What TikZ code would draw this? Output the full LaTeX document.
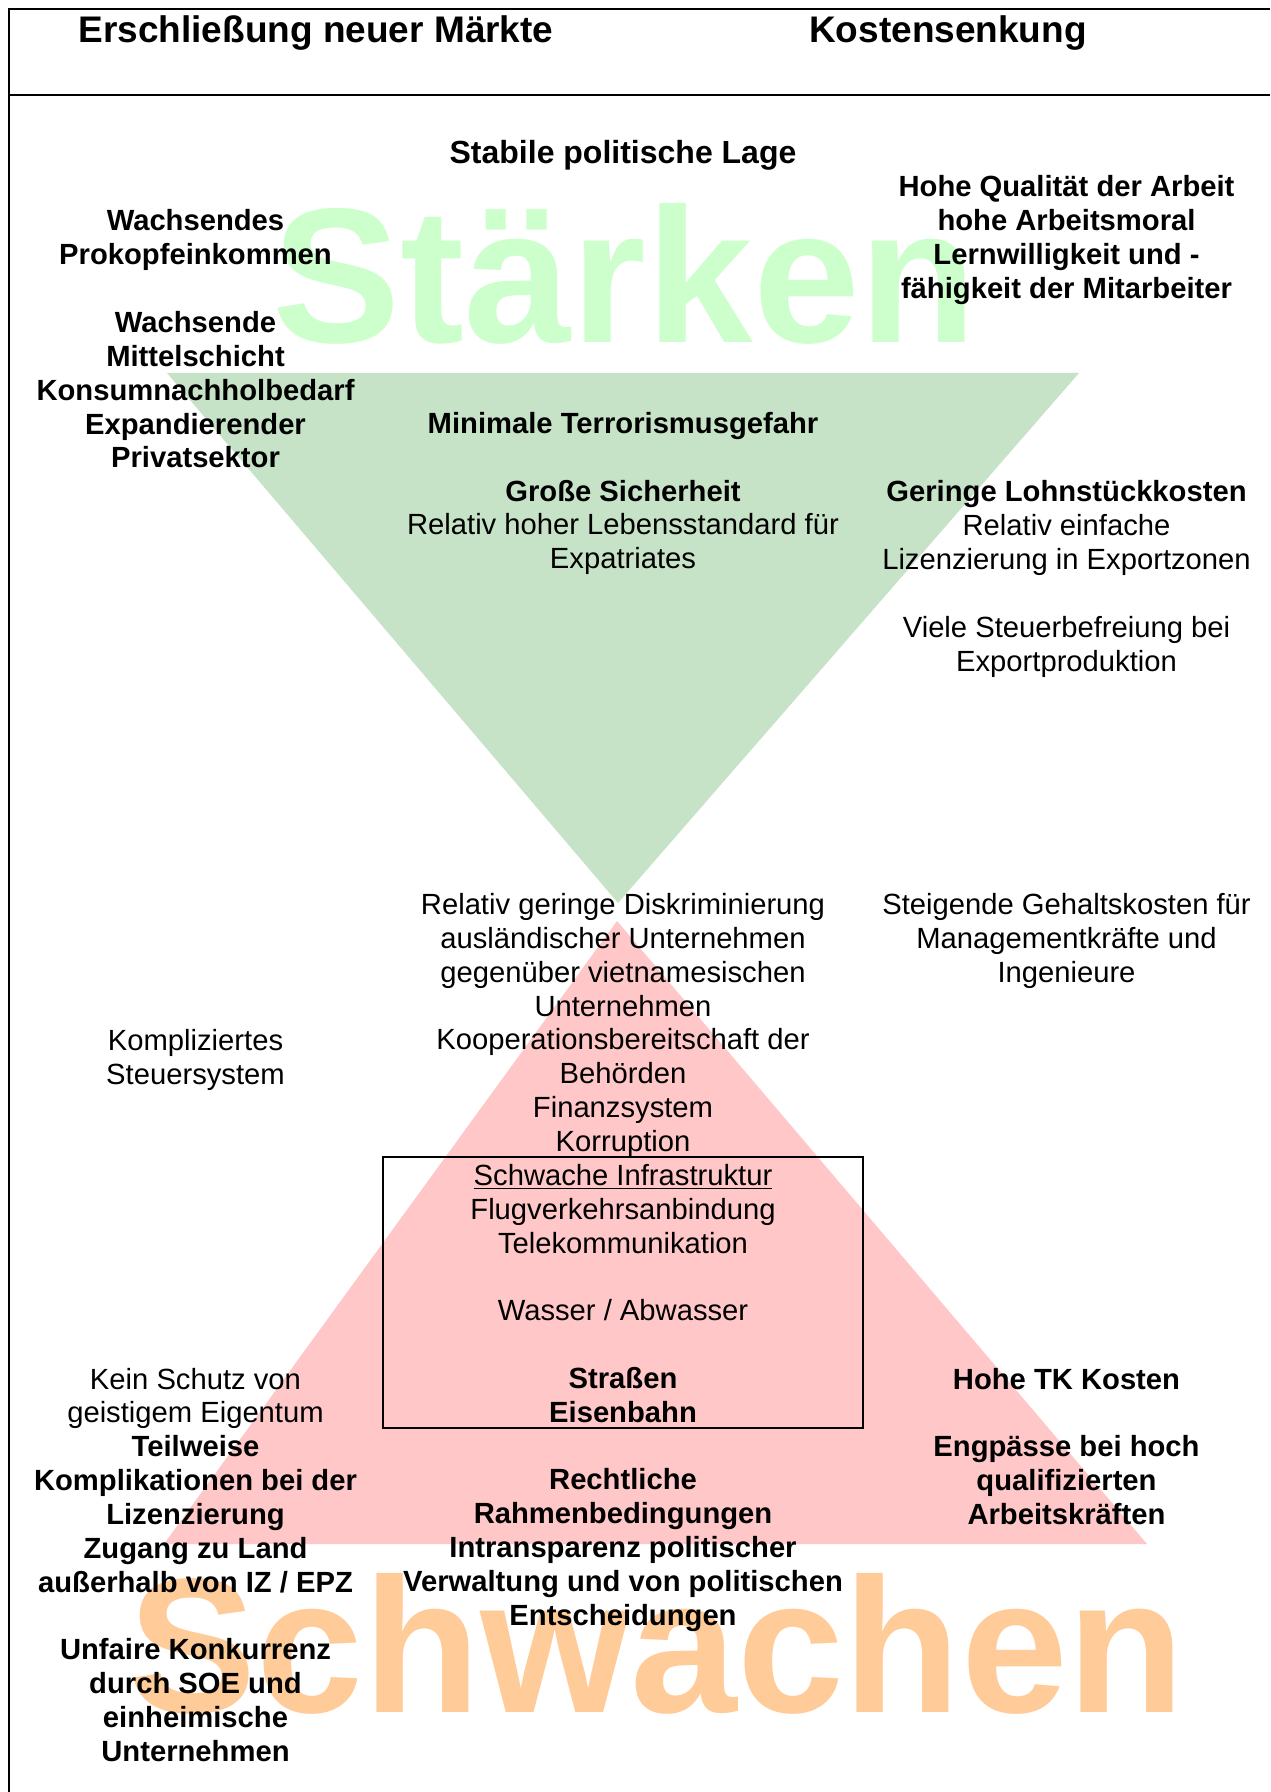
\documentclass[tikz,border=0pt]{standalone}
\usepackage{fontspec}
\setmainfont{Liberation Sans}
\definecolor{trigreen}{RGB}{199,227,199}
\definecolor{tripink}{RGB}{255,199,199}
\definecolor{wordgreen}{RGB}{204,255,204}
\definecolor{wordorange}{RGB}{255,204,153}
\begin{document}
\begin{tikzpicture}[x=0.5pt,y=-0.5pt,
  txtblock/.style={align=center, inner sep=0pt, anchor=north,
    font=\fontsize{14.6}{16.92}\selectfont},
  boldblock/.style={txtblock, font=\fontsize{14.6}{16.92}\selectfont\bfseries},
  headtxt/.style={anchor=base, inner sep=0pt,
    font=\fontsize{18.5}{21}\selectfont\bfseries},
  bigword/.style={anchor=base, inner sep=0pt,
    font=\fontsize{96}{100}\selectfont\bfseries},
  frameline/.style={line width=0.75pt, black}]

% page and frame
\useasboundingbox (0,0) rectangle (1270,1792);
\fill[white] (0,0) rectangle (1270,1792);
\draw[frameline] (9,1792) -- (9,9) -- (1270,9);
\draw[frameline] (9,95) -- (1270,95);

% headings
\node[headtxt] (hmarkt) at (316,43) {Erschließung neuer Märkte};
\node[headtxt] (hkost) at (948,43) {Kostensenkung};

% large background words
\node[bigword, text=wordgreen] (wstark) at (625,343) {Stärken};
\node[bigword, text=wordorange] (wschwach) at (657,1712) {Schwachen};

% triangles
\fill[trigreen] (167,373) -- (1079,373) -- (618,903) -- cycle;
\fill[tripink] (617,921) -- (1147,1544) -- (164,1544) -- cycle;

% infrastructure box
\draw[frameline] (383,1157) rectangle (863,1428);

% strengths
\node[anchor=base, inner sep=0pt, font=\fontsize{16}{18.5}\selectfont\bfseries]
  (slage) at (623,163.5) {Stabile politische Lage};
\node[boldblock] (smarkt) at (195.5,206.9)
  {\strut Wachsendes\\Prokopfeinkommen\\[\baselineskip]Wachsende\\Mittelschicht\\Konsumnachholbedarf\\Expandierender\\Privatsektor};
\node[boldblock] (sarbeit) at (1066.5,172.6)
  {\strut Hohe Qualität der Arbeit\\hohe Arbeitsmoral\\Lernwilligkeit und -\\fähigkeit der Mitarbeiter};
\node[txtblock] (ssicher) at (623,409.3)
  {\strut\textbf{Minimale Terrorismusgefahr}\\[\baselineskip]\textbf{Große Sicherheit}\\Relativ hoher Lebensstandard für\\Expatriates};
\node[txtblock] (slohn) at (1066.5,477.8)
  {\strut\textbf{Geringe Lohnstückkosten}\\Relativ einfache\\Lizenzierung in Exportzonen\\[\baselineskip]Viele Steuerbefreiung bei\\Exportproduktion};

% weaknesses
\node[txtblock] (wmitte) at (623,890.5)
  {\strut Relativ geringe Diskriminierung\\ausländischer Unternehmen\\gegenüber vietnamesischen\\Unternehmen\\Kooperationsbereitschaft der\\Behörden\\Finanzsystem\\Korruption\\\underline{Schwache Infrastruktur}\\Flugverkehrsanbindung\\Telekommunikation\\[\baselineskip]Wasser / Abwasser\\[\baselineskip]\textbf{Straßen}\\\textbf{Eisenbahn}\\[\baselineskip]\textbf{Rechtliche}\\\textbf{Rahmenbedingungen}\\\textbf{Intransparenz politischer}\\\textbf{Verwaltung und von politischen}\\\textbf{Entscheidungen}};
\node[txtblock] (wgehalt) at (1066.5,890.5)
  {\strut Steigende Gehaltskosten für\\Managementkräfte und\\Ingenieure};
\node[txtblock] (wsteuer) at (195.5,1026.5)
  {\strut Kompliziertes\\Steuersystem};
\node[txtblock] (wschutz) at (195.5,1364.9)
  {\strut Kein Schutz von\\geistigem Eigentum\\\textbf{Teilweise}\\\textbf{Komplikationen bei der}\\\textbf{Lizenzierung}\\\textbf{Zugang zu Land}\\\textbf{außerhalb von IZ / EPZ}\\[\baselineskip]\textbf{Unfaire Konkurrenz}\\\textbf{durch SOE und}\\\textbf{einheimische}\\\textbf{Unternehmen}};
\node[boldblock] (wtk) at (1066.5,1364.9)
  {\strut Hohe TK Kosten\\[\baselineskip]Engpässe bei hoch\\qualifizierten\\Arbeitskräften};
\end{tikzpicture}
\end{document}
